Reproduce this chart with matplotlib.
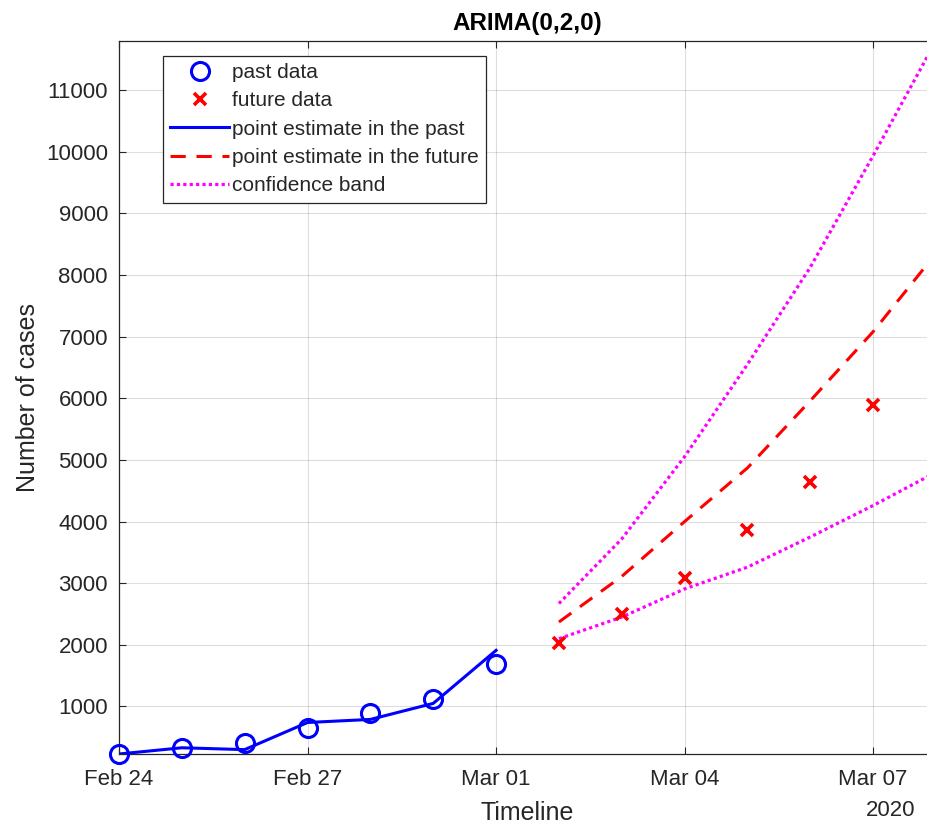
import numpy as np
import pandas as pd
import matplotlib
matplotlib.use('Agg')
import matplotlib.pyplot as plt
import matplotlib.dates as mdates

plt.rcParams['font.family'] = ['Liberation Sans', 'DejaVu Sans']

# observed cases (past window)
past_dates = ['2020-02-24', '2020-02-25', '2020-02-26', '2020-02-27',
              '2020-02-28', '2020-02-29', '2020-03-01']
past_cases = [229, 322, 400, 650, 888, 1128, 1694]
past_fit = [229, 330, 300, 740, 790, 1050, 1910]

# observed cases (future window)
future_dates = ['2020-03-02', '2020-03-03', '2020-03-04', '2020-03-05',
                '2020-03-06', '2020-03-07']
future_cases = [2036, 2502, 3089, 3858, 4636, 5883]

# forecast and confidence band
fc_dates = ['2020-03-02', '2020-03-03', '2020-03-04', '2020-03-05',
            '2020-03-06', '2020-03-07', '2020-03-08']
fc_point = [2370, 3110, 4000, 4870, 5960, 7080, 8350]
fc_upper = [2670, 3718, 5053, 6550, 8125, 9935, 11800]
fc_lower = [2100, 2450, 2907, 3260, 3750, 4260, 4800]

xt = ['2020-02-24', '2020-02-27', '2020-03-01', '2020-03-04', '2020-03-07']

dk = '#262626'
fig = plt.figure(figsize=(9.28, 8.27), dpi=100)
ax = fig.add_axes([119/928, 1-754/827, (936-119)/928, (754-40.7)/827])

pd_ = pd.to_datetime(past_dates)
fd_ = pd.to_datetime(future_dates)
cd_ = pd.to_datetime(fc_dates)

ax.plot(pd_, past_cases, 'o', color='blue', mfc='none', ms=13, mew=2.2, label='past data', clip_on=False, zorder=5)
ax.plot(fd_, future_cases, 'x', color='red', ms=9, mew=2.6, label='future data', zorder=5)
ax.plot(pd_, past_fit, '-', color='blue', lw=2.2, label='point estimate in the past')
ax.plot(cd_, fc_point, '--', color='red', lw=2.2, dashes=(5, 3.5), label='point estimate in the future')
ax.plot(cd_, fc_upper, ':', color='magenta', lw=2.3, dashes=(1, 1), label='confidence band')
ax.plot(cd_, fc_lower, ':', color='magenta', lw=2.3, dashes=(1, 1))

ax.set_xlim(pd.Timestamp('2020-02-24'), pd.Timestamp('2020-03-08'))
ax.set_ylim(229, 11800)
ax.set_xticks(pd.to_datetime(xt))
ax.xaxis.set_major_formatter(mdates.DateFormatter('%b %d'))
ax.set_yticks(np.arange(1000, 11001, 1000))

ax.grid(True, color='#000000', alpha=0.13, lw=0.8)
ax.tick_params(direction='in', length=5, width=0.8, colors=dk, labelsize=16,
               top=True, right=True, pad=8)
ax.tick_params(axis='x', pad=11)
for s in ax.spines.values():
    s.set_color(dk)
    s.set_linewidth(0.9)

ax.set_title('ARIMA(0,2,0)', fontsize=17.5, fontweight='bold', color='#000000', pad=8)
ax.set_ylabel('Number of cases', fontsize=18, color=dk, labelpad=4)
ax.set_xlabel('Timeline', fontsize=18, color=dk, labelpad=8)
fig.text(915/928, 1-800/827, '2020', ha='right', va='top', fontsize=16, color=dk)

leg = ax.legend(loc='upper left', bbox_to_anchor=(0.054, 0.979), borderaxespad=0,
                fontsize=15, handlelength=2.8, handletextpad=0.15,
                labelspacing=0.45, fancybox=False, framealpha=1,
                edgecolor=dk, borderpad=0.35)
leg.get_frame().set_linewidth(0.9)
for t in leg.get_texts():
    t.set_color(dk)

fig.savefig('out.png', dpi=100)
